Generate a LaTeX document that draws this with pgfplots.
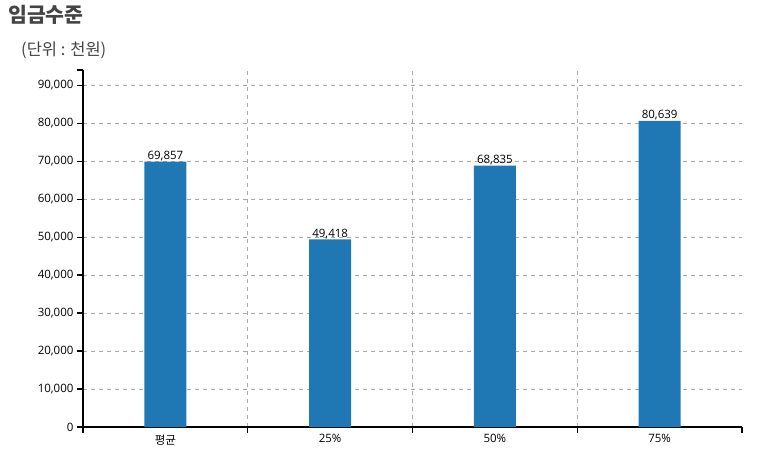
\documentclass[border=0pt]{standalone}
\usepackage{pgfplots}
\pgfplotsset{compat=1.18}
\usepackage{fontspec}
\setmainfont{Open Sans}
\newfontfamily\kr{Noto Sans CJK KR}
\definecolor{barblue}{HTML}{1F77B4}
\definecolor{gridgray}{HTML}{AAAAAA}
\definecolor{titlegray}{HTML}{444444}
\begin{document}
\begin{tikzpicture}
\path[use as bounding box] (0pt,0pt) rectangle (757pt,-455pt);
\node[anchor=base west,font=\kr\fontsize{20.5}{24}\selectfont\bfseries,text=titlegray,inner sep=0] at (8pt,-23pt) {임금수준};
\node[anchor=west,font=\kr\fontsize{16.5}{20}\selectfont,text=titlegray,inner sep=0] at (21pt,-50pt) {(단위 : 천원)};
\begin{axis}[
  at={(83pt,-427pt)}, anchor=south west,
  scale only axis, width=659pt, height=357pt,
  xmin=0, xmax=4, ymin=0, ymax=94000,
  axis x line=bottom, axis y line=left,
  axis line style={-, line width=1.6pt},
  x axis line style={line width=2pt},
  ytick={0,10000,...,90000},
  extra y ticks={94000},
  extra y tick labels={},
  extra y tick style={grid=none},
  xtick={0,1,2,3,4},
  xticklabels={},
  minor xtick={1,2,3},
  extra x ticks={0.5,1.5,2.5,3.5},
  extra x tick labels={{\kr 평균},25\%,50\%,75\%},
  extra x tick style={major tick length=0pt, grid=none, xticklabel style={yshift=-4pt}},
  tick align=outside,
  major tick length=6pt,
  minor tick length=0pt,
  tick style={black, line width=1.2pt},
  ymajorgrids, xminorgrids,
  major grid style={gridgray, dash pattern=on 4pt off 4pt, line width=0.9pt},
  minor grid style={gridgray, dash pattern=on 4pt off 4pt, line width=0.9pt},
  /pgf/number format/assume math mode=true,
  yticklabel style={/pgf/number format/1000 sep={,}, font=\fontsize{11.5}{13}\selectfont},
  xticklabel style={font=\fontsize{11.5}{13}\selectfont},
  scaled y ticks=false,
  ybar, bar width=42pt, bar shift=0pt,
  nodes near coords,
  every node near coord/.append style={font=\fontsize{11.5}{13}\selectfont, /pgf/number format/1000 sep={,}, /pgf/number format/assume math mode=true, yshift=-3pt},
  clip=false,
]
\addplot[fill=barblue, draw=none] coordinates {(0.5,69857) (1.5,49418) (2.5,68835) (3.5,80639)};
\end{axis}
\end{tikzpicture}
\end{document}
